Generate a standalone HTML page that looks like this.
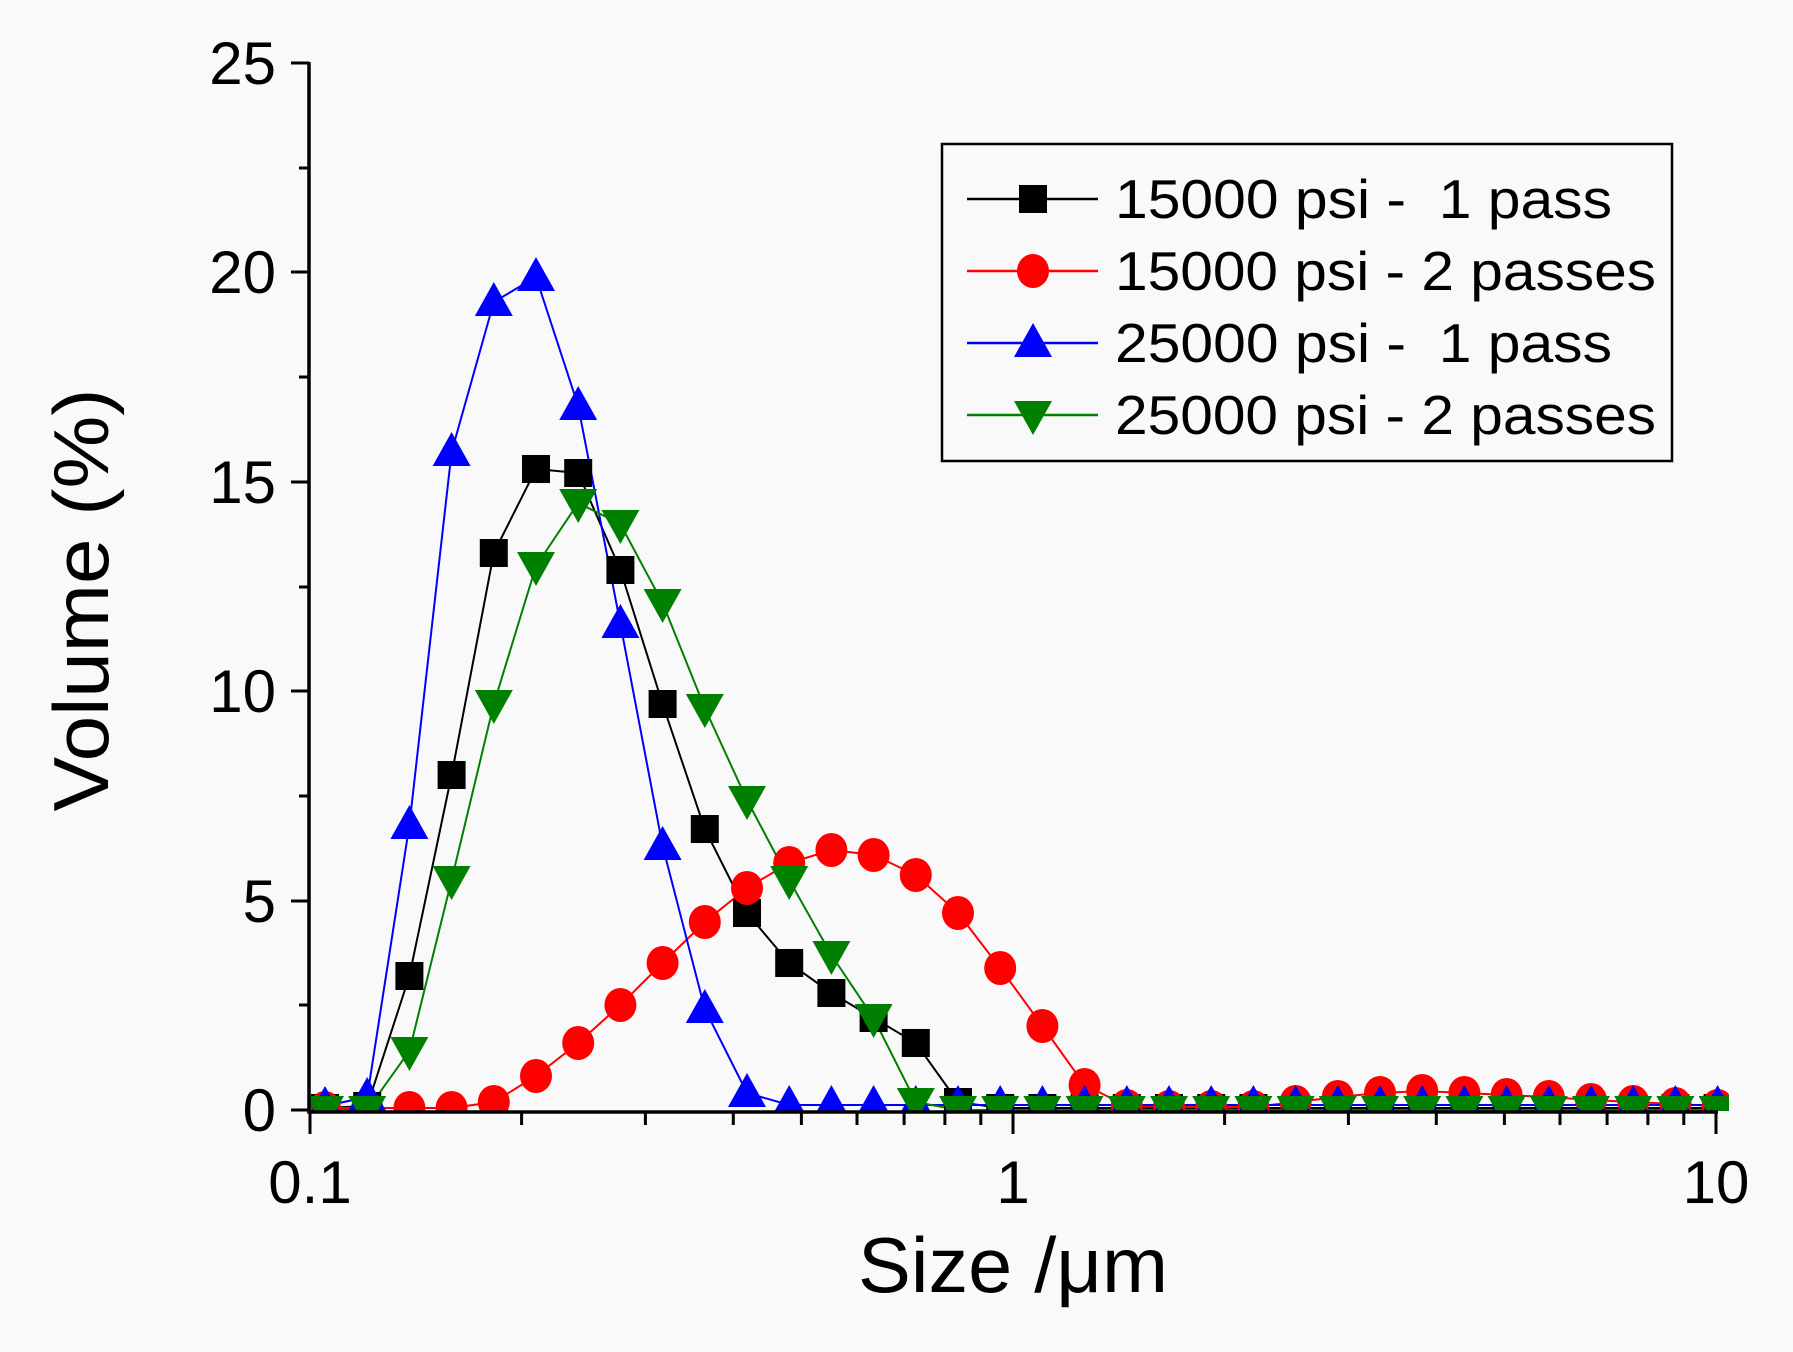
<!DOCTYPE html>
<html><head><meta charset="utf-8"><style>
html,body{margin:0;padding:0;background:#f9f9f9;}
svg{display:block;}
text{font-family:"Liberation Sans",sans-serif;fill:#000;}
</style></head><body>
<svg width="1793" height="1352" viewBox="0 0 1793 1352" xmlns="http://www.w3.org/2000/svg" xmlns:xlink="http://www.w3.org/1999/xlink">
<defs>
<clipPath id="pc"><rect x="309" y="20" width="1420" height="1091"/></clipPath>
<rect id="sq" x="-14" y="-14" width="28" height="28" fill="#000"/>
<ellipse id="ci" cx="0" cy="0" rx="16" ry="17" fill="#ff0000"/>
<polygon id="up" points="-19,14 19,14 0,-20" fill="#0000ff"/>
<polygon id="dn" points="-19,-14 19,-14 0,20" fill="#008000"/>
</defs>
<rect width="1793" height="1352" fill="#f9f9f9"/>
<g clip-path="url(#pc)" fill="none" stroke-width="2">
<polyline stroke="#000" points="325,1108 367.2,1106 409.4,976 451.6,775 493.8,553 536,469 578.2,473 620.4,570 662.6,704 704.8,829 747,913 789.2,963 831.4,993 873.6,1018 915.8,1043 958,1102 1000.2,1108 1717.6,1108"/>
<polyline stroke="#ff0000" points="325,1108 367.2,1108 409.4,1108 451.6,1108 493.8,1102 536,1076 578.2,1043 620.4,1005 662.6,963 704.8,922 747,888 789.2,863 831.4,850 873.6,855 915.8,875 958,913 1000.2,968 1042.4,1026 1084.6,1085 1126.8,1106 1169,1107 1211.2,1107 1253.4,1107 1295.6,1102 1337.8,1097 1380,1093 1422.2,1091 1464.4,1093 1506.6,1095 1548.8,1097 1591,1100 1633.2,1102 1675.4,1104 1717.6,1106"/>
<polyline stroke="#0000ff" points="325,1106 367.2,1097 409.4,825 451.6,452 493.8,302 536,277 578.2,406 620.4,624 662.6,846 704.8,1009 747,1093 789.2,1105 1717.6,1105"/>
<polyline stroke="#008000" points="325,1110 367.2,1110 409.4,1051 451.6,880 493.8,704 536,566 578.2,503 620.4,524 662.6,603 704.8,708 747,800 789.2,880 831.4,955 873.6,1018 915.8,1102 958,1110 1717.6,1110"/>
<!-- black squares -->
<use xlink:href="#sq" x="325" y="1108"/><use xlink:href="#sq" x="367.2" y="1106"/><use xlink:href="#sq" x="409.4" y="976"/><use xlink:href="#sq" x="451.6" y="775"/><use xlink:href="#sq" x="493.8" y="553"/><use xlink:href="#sq" x="536" y="469"/><use xlink:href="#sq" x="578.2" y="473"/><use xlink:href="#sq" x="620.4" y="570"/><use xlink:href="#sq" x="662.6" y="704"/><use xlink:href="#sq" x="704.8" y="829"/><use xlink:href="#sq" x="747" y="913"/><use xlink:href="#sq" x="789.2" y="963"/><use xlink:href="#sq" x="831.4" y="993"/><use xlink:href="#sq" x="873.6" y="1018"/><use xlink:href="#sq" x="915.8" y="1043"/><use xlink:href="#sq" x="958" y="1102"/><use xlink:href="#sq" x="1000.2" y="1108"/><use xlink:href="#sq" x="1042.4" y="1108"/><use xlink:href="#sq" x="1084.6" y="1108"/><use xlink:href="#sq" x="1126.8" y="1108"/><use xlink:href="#sq" x="1169" y="1108"/><use xlink:href="#sq" x="1211.2" y="1108"/><use xlink:href="#sq" x="1253.4" y="1108"/><use xlink:href="#sq" x="1295.6" y="1108"/><use xlink:href="#sq" x="1337.8" y="1108"/><use xlink:href="#sq" x="1380" y="1108"/><use xlink:href="#sq" x="1422.2" y="1108"/><use xlink:href="#sq" x="1464.4" y="1108"/><use xlink:href="#sq" x="1506.6" y="1108"/><use xlink:href="#sq" x="1548.8" y="1108"/><use xlink:href="#sq" x="1591" y="1108"/><use xlink:href="#sq" x="1633.2" y="1108"/><use xlink:href="#sq" x="1675.4" y="1108"/><use xlink:href="#sq" x="1717.6" y="1108"/>
<!-- red circles -->
<use xlink:href="#ci" x="325" y="1108"/><use xlink:href="#ci" x="367.2" y="1108"/><use xlink:href="#ci" x="409.4" y="1108"/><use xlink:href="#ci" x="451.6" y="1108"/><use xlink:href="#ci" x="493.8" y="1102"/><use xlink:href="#ci" x="536" y="1076"/><use xlink:href="#ci" x="578.2" y="1043"/><use xlink:href="#ci" x="620.4" y="1005"/><use xlink:href="#ci" x="662.6" y="963"/><use xlink:href="#ci" x="704.8" y="922"/><use xlink:href="#ci" x="747" y="888"/><use xlink:href="#ci" x="789.2" y="863"/><use xlink:href="#ci" x="831.4" y="850"/><use xlink:href="#ci" x="873.6" y="855"/><use xlink:href="#ci" x="915.8" y="875"/><use xlink:href="#ci" x="958" y="913"/><use xlink:href="#ci" x="1000.2" y="968"/><use xlink:href="#ci" x="1042.4" y="1026"/><use xlink:href="#ci" x="1084.6" y="1085"/><use xlink:href="#ci" x="1126.8" y="1106"/><use xlink:href="#ci" x="1169" y="1107"/><use xlink:href="#ci" x="1211.2" y="1107"/><use xlink:href="#ci" x="1253.4" y="1107"/><use xlink:href="#ci" x="1295.6" y="1102"/><use xlink:href="#ci" x="1337.8" y="1097"/><use xlink:href="#ci" x="1380" y="1093"/><use xlink:href="#ci" x="1422.2" y="1091"/><use xlink:href="#ci" x="1464.4" y="1093"/><use xlink:href="#ci" x="1506.6" y="1095"/><use xlink:href="#ci" x="1548.8" y="1097"/><use xlink:href="#ci" x="1591" y="1100"/><use xlink:href="#ci" x="1633.2" y="1102"/><use xlink:href="#ci" x="1675.4" y="1104"/><use xlink:href="#ci" x="1717.6" y="1106"/>
<!-- blue up triangles -->
<use xlink:href="#up" x="325" y="1106"/><use xlink:href="#up" x="367.2" y="1097"/><use xlink:href="#up" x="409.4" y="825"/><use xlink:href="#up" x="451.6" y="452"/><use xlink:href="#up" x="493.8" y="302"/><use xlink:href="#up" x="536" y="277"/><use xlink:href="#up" x="578.2" y="406"/><use xlink:href="#up" x="620.4" y="624"/><use xlink:href="#up" x="662.6" y="846"/><use xlink:href="#up" x="704.8" y="1009"/><use xlink:href="#up" x="747" y="1093"/><use xlink:href="#up" x="789.2" y="1105"/><use xlink:href="#up" x="831.4" y="1105"/><use xlink:href="#up" x="873.6" y="1105"/><use xlink:href="#up" x="915.8" y="1105"/><use xlink:href="#up" x="958" y="1105"/><use xlink:href="#up" x="1000.2" y="1105"/><use xlink:href="#up" x="1042.4" y="1105"/><use xlink:href="#up" x="1084.6" y="1105"/><use xlink:href="#up" x="1126.8" y="1105"/><use xlink:href="#up" x="1169" y="1105"/><use xlink:href="#up" x="1211.2" y="1105"/><use xlink:href="#up" x="1253.4" y="1105"/><use xlink:href="#up" x="1295.6" y="1105"/><use xlink:href="#up" x="1337.8" y="1105"/><use xlink:href="#up" x="1380" y="1105"/><use xlink:href="#up" x="1422.2" y="1105"/><use xlink:href="#up" x="1464.4" y="1105"/><use xlink:href="#up" x="1506.6" y="1105"/><use xlink:href="#up" x="1548.8" y="1105"/><use xlink:href="#up" x="1591" y="1105"/><use xlink:href="#up" x="1633.2" y="1105"/><use xlink:href="#up" x="1675.4" y="1105"/><use xlink:href="#up" x="1717.6" y="1105"/>
<!-- green down triangles -->
<use xlink:href="#dn" x="325" y="1110"/><use xlink:href="#dn" x="367.2" y="1110"/><use xlink:href="#dn" x="409.4" y="1051"/><use xlink:href="#dn" x="451.6" y="880"/><use xlink:href="#dn" x="493.8" y="704"/><use xlink:href="#dn" x="536" y="566"/><use xlink:href="#dn" x="578.2" y="503"/><use xlink:href="#dn" x="620.4" y="524"/><use xlink:href="#dn" x="662.6" y="603"/><use xlink:href="#dn" x="704.8" y="708"/><use xlink:href="#dn" x="747" y="800"/><use xlink:href="#dn" x="789.2" y="880"/><use xlink:href="#dn" x="831.4" y="955"/><use xlink:href="#dn" x="873.6" y="1018"/><use xlink:href="#dn" x="915.8" y="1102"/><use xlink:href="#dn" x="958" y="1110"/><use xlink:href="#dn" x="1000.2" y="1110"/><use xlink:href="#dn" x="1042.4" y="1110"/><use xlink:href="#dn" x="1084.6" y="1110"/><use xlink:href="#dn" x="1126.8" y="1110"/><use xlink:href="#dn" x="1169" y="1110"/><use xlink:href="#dn" x="1211.2" y="1110"/><use xlink:href="#dn" x="1253.4" y="1110"/><use xlink:href="#dn" x="1295.6" y="1110"/><use xlink:href="#dn" x="1337.8" y="1110"/><use xlink:href="#dn" x="1380" y="1110"/><use xlink:href="#dn" x="1422.2" y="1110"/><use xlink:href="#dn" x="1464.4" y="1110"/><use xlink:href="#dn" x="1506.6" y="1110"/><use xlink:href="#dn" x="1548.8" y="1110"/><use xlink:href="#dn" x="1591" y="1110"/><use xlink:href="#dn" x="1633.2" y="1110"/><use xlink:href="#dn" x="1675.4" y="1110"/><use xlink:href="#dn" x="1717.6" y="1110"/>
</g>
<!-- axes -->
<path d="M309,62 L309,1112 L1718,1112" stroke="#000" stroke-width="3.5" fill="none"/>
<g stroke="#000" stroke-width="3" fill="none">
<path d="M291,1110H309M299,1005H309M291,901H309M299,796H309M291,691H309M299,587H309M291,482H309M299,377H309M291,272H309M299,168H309M291,63H309"/>
<path d="M310,1112V1134M521.6,1112V1125M645.4,1112V1125M733.3,1112V1125M801.4,1112V1125M857,1112V1125M904.1,1112V1125M944.9,1112V1125M980.8,1112V1125M1013,1112V1134M1224.6,1112V1125M1348.4,1112V1125M1436.3,1112V1125M1504.4,1112V1125M1560,1112V1125M1607.1,1112V1125M1647.9,1112V1125M1683.8,1112V1125M1716,1112V1134"/>
</g>
<g font-size="60" text-anchor="end">
<text x="276" y="1131">0</text>
<text x="276" y="922">5</text>
<text x="276" y="712">10</text>
<text x="276" y="503">15</text>
<text x="276" y="293">20</text>
<text x="276" y="84">25</text>
</g>
<g font-size="60" text-anchor="middle">
<text x="310" y="1203">0.1</text>
<text x="1013" y="1203">1</text>
<text x="1716" y="1203">10</text>
</g>
<text x="1013" y="1292" font-size="78" text-anchor="middle" textLength="310" lengthAdjust="spacingAndGlyphs">Size /μm</text>
<text transform="translate(108,600) rotate(-90)" font-size="78" text-anchor="middle" textLength="423" lengthAdjust="spacingAndGlyphs">Volume (%)</text>
<!-- legend -->
<rect x="942" y="144" width="730" height="317" fill="#f9f9f9" stroke="#000" stroke-width="2.5"/>
<g stroke-width="2.5">
<line x1="967" y1="199" x2="1098" y2="199" stroke="#000"/>
<line x1="967" y1="271" x2="1098" y2="271" stroke="#ff0000"/>
<line x1="967" y1="343" x2="1098" y2="343" stroke="#0000ff"/>
<line x1="967" y1="415" x2="1098" y2="415" stroke="#008000"/>
</g>
<use xlink:href="#sq" x="1033" y="199"/>
<use xlink:href="#ci" x="1033" y="271"/>
<use xlink:href="#up" x="1033" y="343"/>
<use xlink:href="#dn" x="1033" y="415"/>
<g font-size="55">
<text x="1115" y="218" textLength="497" lengthAdjust="spacingAndGlyphs" xml:space="preserve">15000 psi -  1 pass</text>
<text x="1115" y="290" textLength="541" lengthAdjust="spacingAndGlyphs">15000 psi - 2 passes</text>
<text x="1115" y="362" textLength="497" lengthAdjust="spacingAndGlyphs" xml:space="preserve">25000 psi -  1 pass</text>
<text x="1115" y="434" textLength="541" lengthAdjust="spacingAndGlyphs">25000 psi - 2 passes</text>
</g>
</svg>
</body></html>
